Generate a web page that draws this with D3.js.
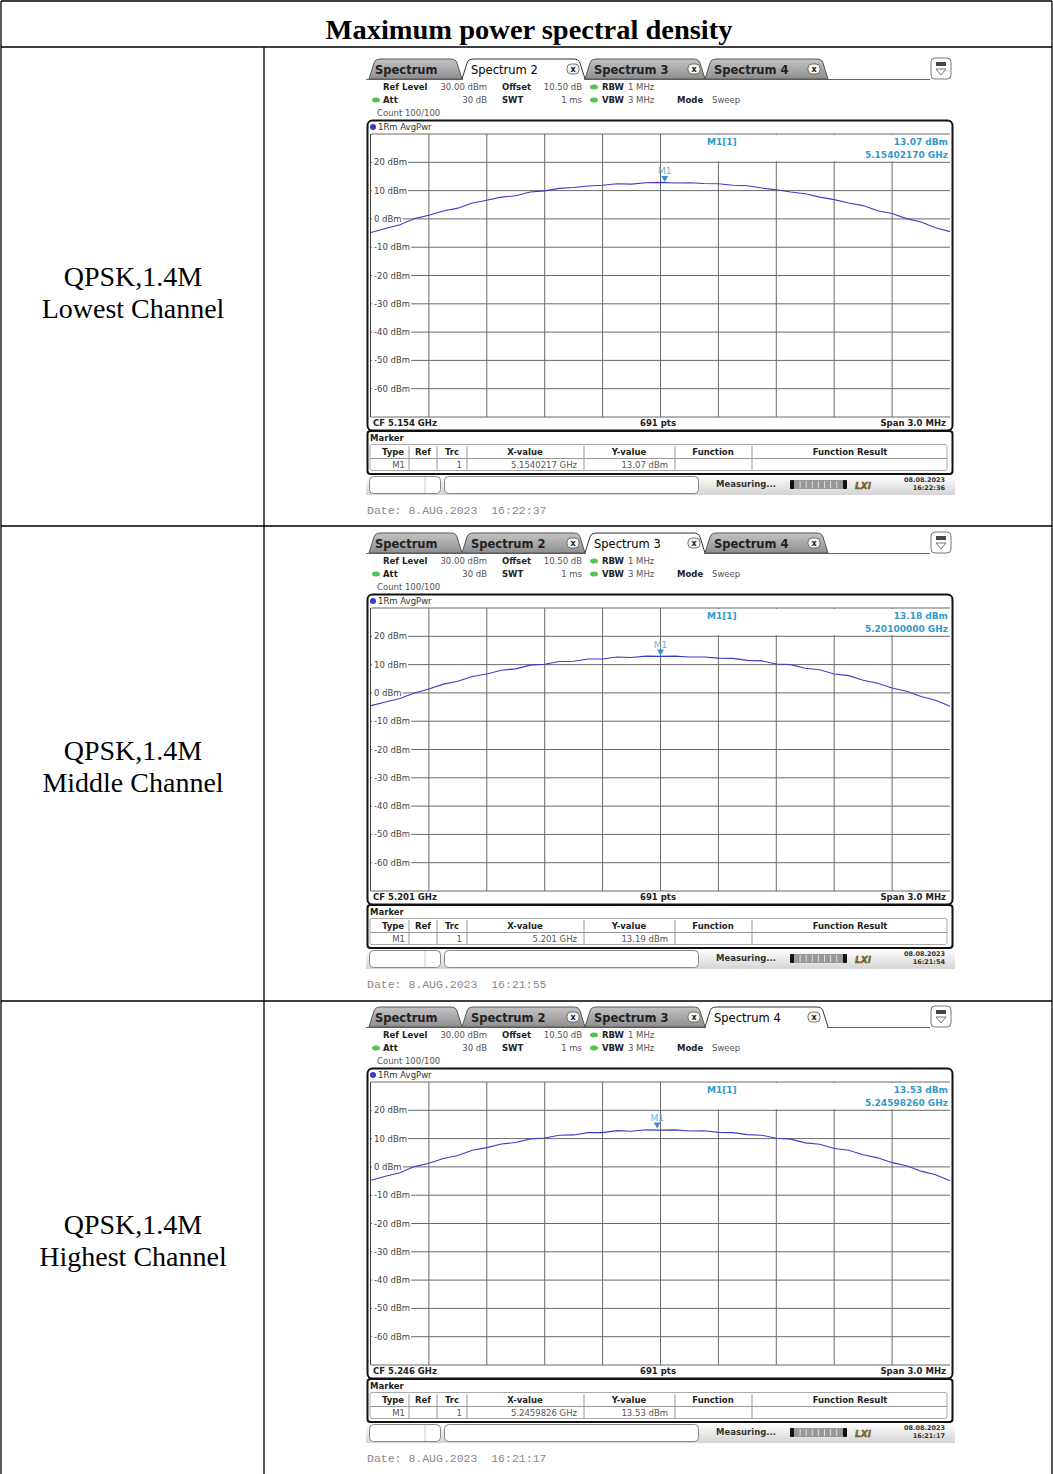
<!DOCTYPE html>
<html>
<head>
	<meta charset="utf-8">
	<script src="https://cdnjs.cloudflare.com/ajax/libs/d3/7.8.5/d3.min.js"></script>
	<style>
		body { margin: 0; background: #fff; }
		svg { display: block; }
		.ins { font-family: "DejaVu Sans", sans-serif; }
	</style>
</head>
<body>
	<svg width="1053" height="1474" id="chart"></svg>

	<script>
	//table texts
	var title = "Maximum power spectral density";
	var modulation = "QPSK,1.4M";
	var channels = ["Lowest Channel", "Middle Channel", "Highest Channel"];

	//instrument readings per channel
	var centerGHz = [5.154, 5.201, 5.246];
	var centerLabels = ["CF 5.154 GHz", "CF 5.201 GHz", "CF 5.246 GHz"];
	var markerGHz = [5.15402170, 5.20100000, 5.24598260];
	var markerLevels = [13.07, 13.18, 13.53];
	var markerFreqText = ["5.15402170 GHz", "5.20100000 GHz", "5.24598260 GHz"];
	var markerLevelText = ["13.07 dBm", "13.18 dBm", "13.53 dBm"];
	var tableXValues = ["5.1540217 GHz", "5.201 GHz", "5.2459826 GHz"];
	var tableYValues = ["13.07 dBm", "13.19 dBm", "13.53 dBm"];
	var activeTabs = [1, 2, 3];
	var statusTimes = ["16:22:36", "16:21:54", "16:21:17"];
	var dateTimes = ["16:22:37", "16:21:55", "16:21:17"];

	//tabs and axis ticks
	var tabNames = ["Spectrum", "Spectrum 2", "Spectrum 3", "Spectrum 4"];
	var levelTicks = [20, 10, 0, -10, -20, -30, -40, -50, -60];
	var spanMHz = 3.0;

	//trace levels (dBm), 41 samples across the span
	var traceLowest = [-4.8, -3.4, -2.1, 0.1, 1.3, 2.8, 3.8, 5.6, 6.6, 7.7, 8.2, 9.5, 9.9, 10.8, 11.1, 11.6, 11.9, 12.4, 12.3, 12.8, 12.9,
		12.7, 12.8, 12.5, 12.4, 11.9, 11.7, 10.9, 10.3, 9.5, 8.9, 7.7, 6.8, 5.6, 4.7, 2.9, 1.9, 0.1, -1.1, -3.1, -4.5];
	var traceMiddle = [-4.5, -3.2, -2.0, 0.0, 1.4, 3.1, 4.1, 5.8, 6.7, 8.0, 8.5, 9.8, 10.1, 11.1, 11.2, 12.0, 12.0, 12.7, 12.5, 13.0, 12.9,
		13.0, 12.7, 12.7, 12.3, 12.2, 11.5, 11.3, 10.2, 10.0, 8.7, 8.2, 6.7, 6.1, 4.5, 3.4, 1.7, 0.6, -1.3, -2.6, -4.7];
	var traceHighest = [-4.7, -3.3, -2.1, 0.1, 1.3, 3.0, 4.0, 5.9, 6.8, 8.1, 8.6, 9.9, 10.2, 11.2, 11.3, 12.1, 12.1, 12.8, 12.6, 13.1, 13.0,
		13.1, 12.7, 12.8, 12.2, 12.1, 11.4, 11.2, 10.1, 9.8, 8.5, 8.0, 6.5, 5.9, 4.3, 3.2, 1.5, 0.4, -1.5, -2.8, -4.9];
	var traces = [traceLowest, traceMiddle, traceHighest];

	var svg = d3.select("svg");
	var panelOffsets = [0, 474, 948];
	var rowLines = [47, 526, 1001];

	//outer table
	var tbl = svg.append("g").attr("stroke", "#000").attr("stroke-width", 1.3);
	tbl.append("line").attr("x1", 1).attr("x2", 1052).attr("y1", 1).attr("y2", 1);
	tbl.append("line").attr("x1", 1).attr("x2", 1).attr("y1", 1).attr("y2", 1474);
	tbl.append("line").attr("x1", 1052).attr("x2", 1052).attr("y1", 1).attr("y2", 1474);
	tbl.append("line").attr("x1", 264).attr("x2", 264).attr("y1", 47).attr("y2", 1474);
	rowLines.forEach(function(y) {
		tbl.append("line").attr("x1", 1).attr("x2", 1052).attr("y1", y).attr("y2", y);
	});

	svg.append("text")
		.attr("x", 529).attr("y", 39)
		.attr("text-anchor", "middle")
		.style("font", "bold 27px 'Liberation Serif', serif")
		.attr("textLength", 407)
		.attr("lengthAdjust", "spacingAndGlyphs")
		.text(title);

	//tab outline
	function tabPath(x0, x1) {
		var top = 59, base = 79;
		return "M" + x0 + "," + base + " L" + (x0 + 5) + "," + (top + 4) + " Q" + (x0 + 6) + "," + top + " " + (x0 + 12) + "," + top +
			" L" + (x1 - 12) + "," + top + " Q" + (x1 - 6) + "," + top + " " + (x1 - 5) + "," + (top + 4) + " L" + x1 + "," + base;
	}

	var defs = svg.append("defs");
	var grad = defs.append("linearGradient").attr("id", "tabGrey").attr("x1", 0).attr("x2", 0).attr("y1", 0).attr("y2", 1);
	grad.append("stop").attr("offset", "0%").attr("stop-color", "#c4c4c4");
	grad.append("stop").attr("offset", "100%").attr("stop-color", "#8e8e8e");
	var sgrad = defs.append("linearGradient").attr("id", "statusGrey").attr("x1", 0).attr("x2", 0).attr("y1", 0).attr("y2", 1);
	sgrad.append("stop").attr("offset", "0%").attr("stop-color", "#ffffff");
	sgrad.append("stop").attr("offset", "100%").attr("stop-color", "#d4d4d4");

	var tabEdges = [369, 462, 585, 705, 828];
	var tabClose = [null, 573, 694, 814];

	function drawPanel(i) {
		var g = svg.append("g")
			.attr("class", "ins")
			.attr("transform", "translate(0," + panelOffsets[i] + ")");

		//left column label
		var lab = svg.append("g").style("font", "28px 'Liberation Serif', serif").attr("text-anchor", "middle");
		lab.append("text").attr("x", 133).attr("y", 286 + panelOffsets[i]).text(modulation);
		lab.append("text").attr("x", 133).attr("y", 318 + panelOffsets[i]).text(channels[i]);

		//tabs, inactive first
		g.append("line").attr("x1", 366).attr("x2", 930).attr("y1", 79.5).attr("y2", 79.5)
			.attr("stroke", "#666").attr("stroke-width", 1);
		var order = [0, 1, 2, 3].filter(function(t) { return t !== activeTabs[i]; }).concat([activeTabs[i]]);
		order.forEach(function(t) {
			var active = t === activeTabs[i];
			var x0 = tabEdges[t], x1 = tabEdges[t + 1];
			g.append("path")
				.attr("d", tabPath(x0, x1) + (active ? "" : " Z"))
				.attr("fill", active ? "#fff" : "url(#tabGrey)")
				.attr("stroke", active ? "#333" : "#555")
				.attr("stroke-width", 1);
			if (active) {
				g.append("rect").attr("x", x0 + 1).attr("y", 77).attr("width", x1 - x0 - 2).attr("height", 4).attr("fill", "#fff");
			}
			g.append("text")
				.attr("x", x0 + (t === 0 ? 6 : 9)).attr("y", 74)
				.attr("fill", active ? "#000" : "#222")
				.style("font-size", "11.5px")
				.style("font-weight", active ? "normal" : "bold")
				.text(tabNames[t]);
			if (tabClose[t]) {
				g.append("rect").attr("x", tabClose[t] - 6).attr("y", 64).attr("width", 12).attr("height", 10).attr("rx", 4)
					.attr("fill", "#f4f4f4").attr("stroke", "#555").attr("stroke-width", 0.8);
				g.append("text").attr("x", tabClose[t]).attr("y", 72).attr("text-anchor", "middle")
					.style("font-size", "8px").style("font-weight", "bold").attr("fill", "#222").text("x");
			}
		});

		//menu icon at the right of the tab row
		g.append("rect").attr("x", 931).attr("y", 58).attr("width", 20).attr("height", 21).attr("rx", 4)
			.attr("fill", "#fff").attr("stroke", "#777");
		g.append("rect").attr("x", 936).attr("y", 62).attr("width", 10).attr("height", 4).attr("fill", "#445");
		g.append("path").attr("d", "M936,69 L946,69 L941,75 Z").attr("fill", "none").attr("stroke", "#555").attr("stroke-width", 0.8);

		//settings block
		var hdr = g.append("g").style("font-size", "8.5px");
		function bold(x, y, s) { hdr.append("text").attr("x", x).attr("y", y).attr("fill", "#222").style("font-weight", "bold").text(s); }
		function val(x, y, s, anchor) { hdr.append("text").attr("x", x).attr("y", y).attr("fill", "#555").attr("text-anchor", anchor || "start").text(s); }
		function dot(cx, cy) { hdr.append("ellipse").attr("cx", cx).attr("cy", cy).attr("rx", 4).attr("ry", 2.5).attr("fill", "#56c256"); }
		bold(383, 90, "Ref Level"); val(487, 90, "30.00 dBm", "end");
		bold(502, 90, "Offset"); val(582, 90, "10.50 dB", "end");
		dot(594, 87); bold(602, 90, "RBW"); val(628, 90, "1 MHz");
		dot(376, 100); bold(383, 103, "Att"); val(487, 103, "30 dB", "end");
		bold(502, 103, "SWT"); val(582, 103, "1 ms", "end");
		dot(594, 100); bold(602, 103, "VBW"); val(628, 103, "3 MHz");
		bold(677, 103, "Mode"); val(712, 103, "Sweep");
		val(377, 116, "Count 100/100");

		//scales
		var x = d3.scaleLinear().domain([-spanMHz / 2, spanMHz / 2]).range([371, 950]);
		var y = d3.scaleLinear().domain([-70, 30]).range([417, 134]);

		//graticule frame
		g.append("rect").attr("x", 367.5).attr("y", 120.5).attr("width", 585).attr("height", 310).attr("rx", 5)
			.attr("fill", "#fff").attr("stroke", "#111").attr("stroke-width", 2);
		g.append("circle").attr("cx", 373).attr("cy", 127).attr("r", 3).attr("fill", "#2a3fd0");
		g.append("text").attr("x", 378).attr("y", 130).style("font-size", "8.5px").attr("fill", "#333").text("1Rm AvgPwr");

		var grid = g.append("g").attr("stroke", "#6a6a6a").attr("stroke-width", 1);
		d3.range(1, 10).forEach(function(k) {
			var fx = x(-spanMHz / 2 + k * spanMHz / 10);
			grid.append("line").attr("x1", fx).attr("x2", fx).attr("y1", y(30)).attr("y2", y(-70));
		});
		//marker readout box covers the grid above 20 dBm on the right
		g.append("rect").attr("x", x(0) + 1).attr("y", y(30) + 1).attr("width", 950 - x(0) - 1).attr("height", y(20) - y(30) - 2).attr("fill", "#fff");
		var hgrid = g.append("g").attr("stroke", "#6a6a6a").attr("stroke-width", 1);
		[30, 20, 10, 0, -10, -20, -30, -40, -50, -60, -70].forEach(function(v) {
			hgrid.append("line").attr("x1", 371).attr("x2", 950).attr("y1", y(v)).attr("y2", y(v));
		});
		g.append("line").attr("x1", 370.5).attr("x2", 370.5).attr("y1", y(30)).attr("y2", y(-70)).attr("stroke", "#444");

		//level labels sit on the grid lines
		levelTicks.forEach(function(v) {
			var t = g.append("text").attr("x", 374).attr("y", y(v) + 3).style("font-size", "8.5px").attr("fill", "#444").text(v + " dBm");
			var w = t.node().getComputedTextLength();
			g.insert("rect", function() { return t.node(); })
				.attr("x", 372).attr("y", y(v) - 4).attr("width", w + 3).attr("height", 8).attr("fill", "#fff");
		});

		//trace
		var line = d3.line()
			.x(function(d, k) { return x(-spanMHz / 2 + k * spanMHz / (traces[i].length - 1)); })
			.y(function(d) { return y(d); });
		g.append("path").datum(traces[i])
			.attr("d", line)
			.attr("fill", "none")
			.attr("stroke", "#3c3cc8")
			.attr("stroke-width", 1.1);

		//marker M1
		var mx = x((markerGHz[i] - centerGHz[i]) * 1000), my = y(markerLevels[i]);
		g.append("path").attr("d", "M" + (mx - 3.5) + "," + (my - 6) + " L" + (mx + 3.5) + "," + (my - 6) + " L" + mx + "," + my + " Z")
			.attr("fill", "#3a8fd0");
		g.append("text").attr("x", mx).attr("y", my - 8).attr("text-anchor", "middle")
			.style("font-size", "9px").attr("fill", "#6db3dc").text("M1");

		var mk = g.append("g").style("font-size", "9px").style("font-weight", "bold").attr("fill", "#3399cc");
		mk.append("text").attr("x", 707).attr("y", 145).text("M1[1]");
		mk.append("text").attr("x", 948).attr("y", 145).attr("text-anchor", "end").text(markerLevelText[i]);
		mk.append("text").attr("x", 948).attr("y", 158).attr("text-anchor", "end").text(markerFreqText[i]);

		//bottom bar of graticule
		var cf = g.append("g").style("font-size", "8.5px").style("font-weight", "bold").attr("fill", "#222");
		cf.append("text").attr("x", 373).attr("y", 426).text(centerLabels[i]);
		cf.append("text").attr("x", 658).attr("y", 426).attr("text-anchor", "middle").text("691 pts");
		cf.append("text").attr("x", 946).attr("y", 426).attr("text-anchor", "end").text("Span " + spanMHz.toFixed(1) + " MHz");

		//marker table
		g.append("rect").attr("x", 367.5).attr("y", 431).attr("width", 585).attr("height", 43).attr("rx", 3)
			.attr("fill", "#fff").attr("stroke", "#111").attr("stroke-width", 2);
		g.append("rect").attr("x", 370).attr("y", 444.5).attr("width", 577).attr("height", 26).attr("rx", 2)
			.attr("fill", "#fff").attr("stroke", "#aaa");
		g.append("line").attr("x1", 370).attr("x2", 947).attr("y1", 458.5).attr("y2", 458.5).attr("stroke", "#999");
		[409, 437, 467, 584, 675, 752].forEach(function(sx) {
			g.append("line").attr("x1", sx).attr("x2", sx).attr("y1", 446).attr("y2", 470).attr("stroke", "#999");
		});
		var mt = g.append("g").style("font-size", "8.5px").attr("fill", "#222");
		mt.append("text").attr("x", 370).attr("y", 441).style("font-weight", "bold").text("Marker");
		var heads = [["Type", 393], ["Ref", 423], ["Trc", 452], ["X-value", 525], ["Y-value", 629], ["Function", 713], ["Function Result", 850]];
		heads.forEach(function(h) {
			mt.append("text").attr("x", h[1]).attr("y", 455).attr("text-anchor", "middle").style("font-weight", "bold").text(h[0]);
		});
		var rowt = g.append("g").style("font-size", "8.5px").attr("fill", "#555").attr("text-anchor", "end");
		rowt.append("text").attr("x", 405).attr("y", 468).text("M1");
		rowt.append("text").attr("x", 462).attr("y", 468).text("1");
		rowt.append("text").attr("x", 577).attr("y", 468).text(tableXValues[i]);
		rowt.append("text").attr("x", 668).attr("y", 468).text(tableYValues[i]);

		//status bar
		g.append("rect").attr("x", 366).attr("y", 475).attr("width", 589).attr("height", 20).attr("fill", "url(#statusGrey)");
		g.append("rect").attr("x", 369.5).attr("y", 476.5).attr("width", 71).attr("height", 17).attr("rx", 4)
			.attr("fill", "#fff").attr("stroke", "#888");
		g.append("line").attr("x1", 425).attr("x2", 425).attr("y1", 477).attr("y2", 493).attr("stroke", "#ccc");
		g.append("rect").attr("x", 444.5).attr("y", 476.5).attr("width", 254).attr("height", 17).attr("rx", 4)
			.attr("fill", "#fff").attr("stroke", "#888");
		g.append("text").attr("x", 716).attr("y", 487).style("font-size", "8.5px").style("font-weight", "bold")
			.attr("fill", "#333").text("Measuring...");
		g.append("rect").attr("x", 790).attr("y", 480).attr("width", 57).attr("height", 9).attr("rx", 2).attr("fill", "#999");
		g.append("rect").attr("x", 790).attr("y", 480).attr("width", 4).attr("height", 9).attr("rx", 1).attr("fill", "#111");
		g.append("rect").attr("x", 843).attr("y", 480).attr("width", 4).attr("height", 9).attr("rx", 1).attr("fill", "#111");
		d3.range(1, 8).forEach(function(k) {
			g.append("line").attr("x1", 794 + k * 6.1).attr("x2", 794 + k * 6.1).attr("y1", 481).attr("y2", 488).attr("stroke", "#ddd");
		});
		g.append("text").attr("x", 855).attr("y", 489).style("font-size", "9px").style("font-weight", "bold").style("font-style", "italic")
			.attr("fill", "#3a8a2a").attr("stroke", "#b03030").attr("stroke-width", 0.4).text("LXI");
		var st = g.append("g").style("font-size", "6.5px").style("font-weight", "bold").attr("fill", "#333").attr("text-anchor", "end");
		st.append("text").attr("x", 945).attr("y", 482).text("08.08.2023");
		st.append("text").attr("x", 945).attr("y", 490).text(statusTimes[i]);

		//capture date
		g.append("text").attr("x", 367).attr("y", 514)
			.style("font", "11.5px 'Liberation Mono', monospace").attr("fill", "#888")
			.attr("xml:space", "preserve")
			.text("Date: 8.AUG.2023  " + dateTimes[i]);
	}

	[0, 1, 2].forEach(drawPanel);
	</script>
</body>
</html>
